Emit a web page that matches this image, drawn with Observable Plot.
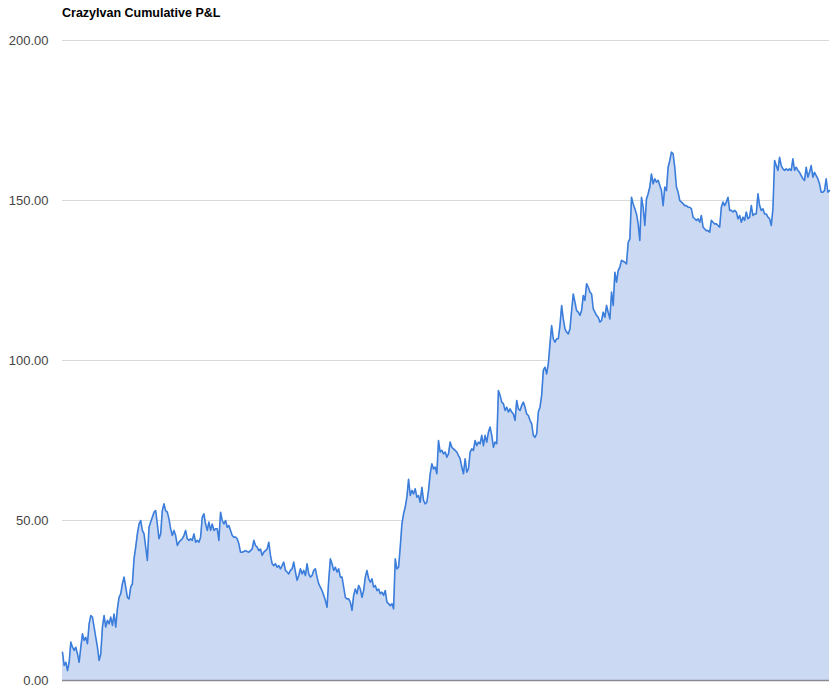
<!DOCTYPE html>
<html>
<head>
<meta charset="utf-8">
<script src="https://cdn.jsdelivr.net/npm/d3@7"></script>
<script src="https://cdn.jsdelivr.net/npm/@observablehq/plot@0.6"></script>
<style>
  html, body { margin: 0; padding: 0; background: #fff; }
  #wrap { position: relative; width: 840px; height: 695px; }
  #title { position: absolute; left: 62px; top: 6px; font: bold 12.5px "Liberation Sans", Arial, sans-serif; color: #000; }
  #chart { position: absolute; left: 0; top: 0; }
</style>
</head>
<body>
<div id="wrap">
  <div id="chart"></div>
  <div id="title">CrazyIvan Cumulative P&amp;L</div>
</div>
<script>
const title = "CrazyIvan Cumulative P&L";
const yTicks = [0, 50, 100, 150, 200];
const pnl = [
  8.8, 4.7, 5.7, 3.1, 5.7, 12, 10.4, 9.4, 10.4, 8.3, 5.7, 10.4, 14.6, 12.5, 13.5, 11.5, 17.7, 20.3, 19.8, 16.7,
  13.5, 10.4, 6.3, 8.3, 16.7, 20.3, 16.7, 18.8, 17.7, 19.8, 17.2, 20.8, 16.7, 22.4, 26, 27.1, 30.2, 32.3, 29.2, 26,
  25.5, 29.2, 30.2, 38, 41.7, 45.8, 48.9, 50, 46.9, 45.8, 41.7, 37.5, 47.9, 49.5, 51, 52.6, 53.1, 48.9, 44.3, 45.8,
  53.1, 55.2, 53.1, 52.6, 50.5, 47.4, 45.3, 46.9, 45.3, 42.2, 43.2, 43.8, 44.3, 45.3, 46.9, 44.3, 43.8, 44.3, 43.8, 45.8,
  43.2, 43.8, 43.2, 44.8, 51, 52.1, 48.9, 46.9, 49.5, 46.9, 48.9, 46.9, 47.4, 47.4, 43.8, 52.6, 50, 48.9, 50, 47.9,
  48.4, 46.9, 45.3, 44.8, 44.8, 44.3, 42.7, 40.1, 40.1, 40.3, 40.6, 40.3, 40.1, 40.6, 41.1, 43.8,
  42.2, 41.7, 40.6, 41.1, 39.1, 40.1, 40.6, 41.1, 43.2, 39.1, 36.5, 35.9, 36.5, 35.4, 35.9, 34.9, 35.9, 37, 34.4, 33.9,
  33.3, 34.4, 34.9, 37, 33.9, 31.3, 32.8, 34.9, 33.3, 34.4, 32.8, 36.5, 33.3, 32.3, 32.8, 34.4, 34.9, 32.3, 30.2, 29.2,
  28.1, 26.6, 25, 22.9, 31.3, 38, 36.5, 34.4, 35.4, 33.9, 34.9, 32.3, 32.3, 29.2, 26, 25.5, 25.5, 24.5, 21.9, 26.6,
  28.6, 27.1, 29.7, 28.6, 26, 28.1, 32.3, 34.4, 31.8, 30.7, 31.8, 29.2, 29.7, 28.1, 28.6, 27.1, 27.6, 26.6, 28.1, 24.5,
  24, 23.4, 24, 22.4, 38, 34.9, 35.4,
  41.7, 48.9, 52.1, 54.2, 57.3, 62.9, 57.8, 59.4, 58.3, 59.9, 57.3, 57.8, 55.7, 60.4, 56.3, 55.2, 55.7, 59.4, 64.6, 67.7,
  66.1, 66.7, 64.6, 75, 71.4, 71.9, 70.8, 71.4, 69.8, 70.8, 74.5, 72.9, 72.4, 71.9, 71.4, 70.3, 69.3, 66.7, 64.6, 69.3,
  65.1, 66.1, 71.4, 72.4, 71.9, 75, 73.4, 74.5, 74, 76.6, 73.4, 76.6, 74.5, 77.6, 79.2, 76.6, 72.9, 74.5, 74, 90.6,
  89.1, 87, 86.5, 84.4, 85.4, 83.9, 84.9, 83.9, 83.3, 81.3, 87.5, 84.9, 84.4, 85.9, 87, 85.4, 83.3, 82.8, 81.3, 80.2,
  76.6, 76, 77.1, 83.9, 85.4, 89.1, 97, 97.9, 95.8, 99, 105.2, 110.9, 106.8, 105.7, 106.8, 106.8, 110.9, 117.2, 113, 109.9,
  108.9, 108.3, 109.9, 115.6, 120.8, 118.2, 115.6, 115.1, 114.1, 115.6, 120.3, 118.8, 124, 122.9, 121.4, 120.8, 116.1, 115.1, 114.1, 113.5,
  112, 112.5, 115.1, 113.5, 117.2, 115, 113, 121.4, 117.2, 127.6, 124.5, 128.1, 129.2, 131.3, 131, 130.7, 130.2, 136.9, 138, 151,
  148.9, 147.4, 145.8, 142.7, 137.5, 151, 147.9, 142.2, 150.5, 152.1, 154.2, 158.3, 155.2, 156.8, 155.7, 156.3, 154.7, 153.1, 148.4, 154.2,
  153.1, 160.4, 162.5, 165.1, 164.6, 160.4, 154.2, 152.6, 150, 149.5, 149, 148.4, 148.4, 147.9, 147.9, 147.4, 144.8, 144.3, 143.8, 144.3,
  143.2, 145.3, 141.7, 141.1, 140.6, 140.6, 140.1, 143.8, 143.2, 142.7, 142.7, 142.2, 141.7, 147.9, 149.5, 148.4, 149.5, 151, 146.9, 146.9,
  146.4, 146.9, 146.4, 144.3, 145.3, 143.2, 144.8, 143.8, 146.4, 144.3, 144.8, 148.4, 145.3, 145.8, 145.8, 152.1, 148.4, 146.9, 147.4, 145.8,
  145.8, 144.8, 144.3, 142.2, 147.4, 162.5, 160.9, 159.4, 163.5, 160.9, 159.9, 159.4, 159.9, 159.4, 159.9, 159.4, 163, 159.4, 160.4, 159.4,
  158.8, 157.8, 156.8, 156.3, 160.4, 157.3, 158.8, 160.9, 157.3, 158.8, 157.8, 156.8, 155.2, 152.6, 152.6, 153.1, 156.8, 152.6, 153.1
];
const data = pnl.map((v, i) => ({day: i, pnl: v}));

const chart = Plot.plot({
  width: 840,
  height: 695,
  marginTop: 40,
  marginBottom: 15,
  marginLeft: 62,
  marginRight: 11,
  style: {fontFamily: "'Liberation Sans', Arial, sans-serif", fontSize: "13px", color: "#444", background: "transparent"},
  x: {domain: [0, pnl.length - 1], axis: null},
  y: {domain: [0, 200], ticks: yTicks, tickFormat: d3.format(".2f"), tickSize: 0, tickPadding: 14, label: null},
  marks: [
    Plot.gridY(yTicks.filter(t => t > 0), {stroke: "#d9d9d9", strokeOpacity: 1, strokeWidth: 1}),
    Plot.areaY(data, {x: "day", y: "pnl", fill: "#ccd9f3", fillOpacity: 1}),
    Plot.lineY(data, {x: "day", y: "pnl", stroke: "#3a7ddb", strokeWidth: 1.6, strokeLinejoin: "round"}),
    Plot.ruleY([0], {stroke: "#8a8a94", strokeWidth: 1.5}),
    Plot.axisY({ticks: yTicks, tickFormat: d3.format(".2f"), tickSize: 0, tickPadding: 14, fill: "#444"})
  ]
});
document.getElementById("chart").appendChild(chart);
</script>
</body>
</html>
